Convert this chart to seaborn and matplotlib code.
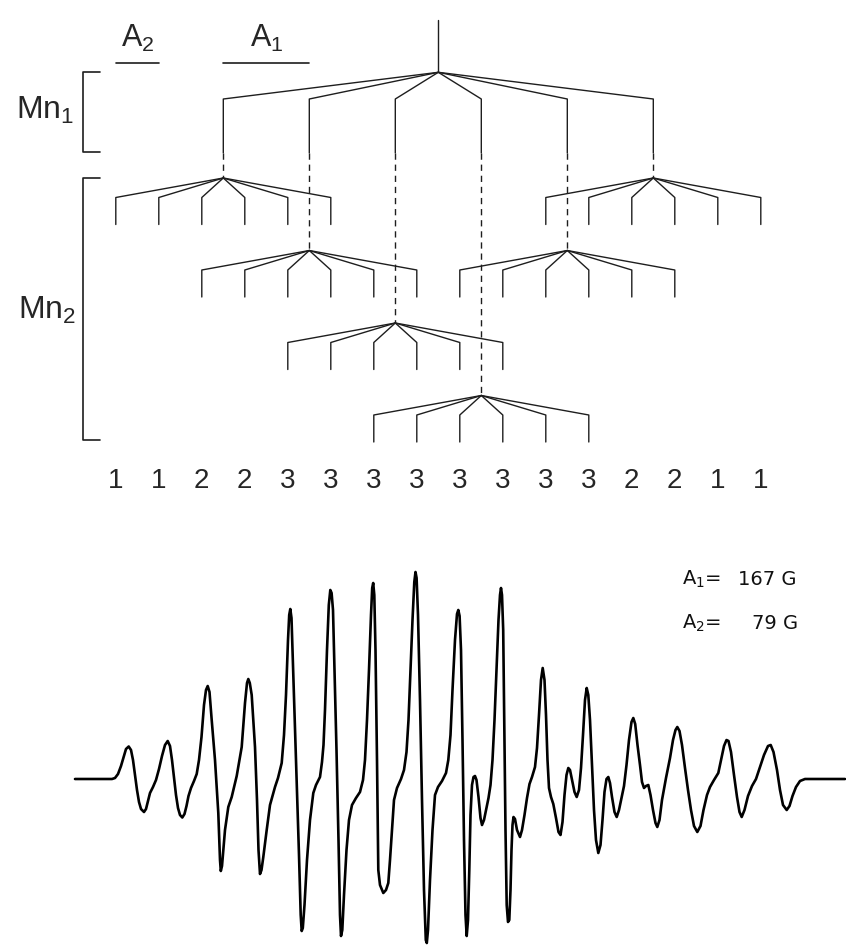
import numpy as np
import pandas as pd
import matplotlib
matplotlib.use("Agg")
import matplotlib.pyplot as plt
import seaborn as sns

sns.set_theme(style="white")
plt.rcParams['font.family'] = ['Liberation Sans', 'DejaVu Sans']

# ---------------- data ----------------
# splitting tree (diagram units)
A1 = 86.0            # Mn1 hyperfine spacing in diagram
A2 = 43.0            # Mn2 hyperfine spacing in diagram
tree_center_x = 438.3
m_values = [-2.5, -1.5, -0.5, 0.5, 1.5, 2.5]
branch_row = [0, 1, 2, 3, 1, 0]          # which Mn2 row each Mn1 line feeds
row_center_y = [178.0, 250.5, 323.0, 395.5]
line_counts = ["1", "1", "2", "2", "3", "3", "3", "3", "3", "3", "3", "3", "2", "2", "1", "1"]

# EPR spectrum trace: (field position, pen position)
spec_points = [
    (75, 779), (112, 779), (115, 778), (118, 774), (121, 766), (124, 756), (126, 749),
    (128.7, 746.5), (131, 750), (133, 760), (135, 775), (137, 790), (139, 802), (141, 809),
    (144, 812), (146, 809), (148, 801), (150, 793), (153, 787), (156, 780), (159, 769),
    (162, 756), (165, 745), (167.7, 741), (170, 746), (172, 760), (174, 778), (176, 795),
    (178, 808), (180, 815), (182.3, 817.5), (184.5, 814), (186.5, 806), (188.5, 796),
    (191, 788), (194, 781), (196.7, 774), (199, 760), (201.5, 737), (204, 705), (206, 690),
    (207.7, 686), (209.5, 692), (211.7, 720), (215, 760), (218.3, 813), (220, 860),
    (220.8, 871), (222, 866), (223.5, 848), (225, 830), (228.3, 807), (231.7, 797),
    (236.7, 776), (241.7, 747), (245, 703), (247, 683), (248.3, 679), (249.8, 683),
    (251.7, 695), (255, 747), (257, 800), (258.5, 850), (260, 874), (261.5, 870),
    (263.3, 857), (266.7, 830), (270, 805), (275, 787), (278, 778), (281.7, 763),
    (284, 735), (286, 695), (288, 640), (289.2, 615), (290.3, 609), (291.5, 618),
    (293, 665), (295, 730), (297, 790), (299, 855), (300.7, 915), (301.7, 931),
    (302.8, 928), (304.5, 905), (307, 860), (310, 820), (313.3, 793), (316, 785),
    (320, 777), (322, 762), (323.5, 745), (325, 710), (327, 650), (328.8, 605),
    (330.3, 590), (331.6, 593), (333, 610), (334.5, 670), (336.5, 750), (338.5, 840),
    (340, 915), (341, 936), (342.3, 930), (344, 895), (346.5, 850), (349, 820),
    (352, 805), (356, 798), (360, 792), (363, 780), (365, 760), (367, 720), (369, 670),
    (371, 615), (372.2, 588), (373.2, 583), (374.3, 595), (375.5, 650), (377, 760),
    (378.3, 870), (380, 885), (383.3, 893), (386, 890), (388.3, 883), (390, 860),
    (392, 830), (394, 800), (397, 788), (401, 779), (404, 770), (406.5, 752),
    (408.5, 720), (410.5, 670), (412.5, 620), (414.3, 582), (415.5, 572), (416.6, 578),
    (418, 615), (420, 700), (422, 800), (424, 890), (425.8, 940), (426.8, 943),
    (428, 930), (430, 880), (432.5, 830), (435, 795), (438, 787), (442, 781),
    (446, 773), (448.3, 760), (450.5, 735), (452.5, 690), (455, 640), (457, 614),
    (458.3, 610), (459.6, 616), (461, 650), (462.5, 740), (464, 840), (465.5, 915),
    (466.7, 936), (468, 920), (469.3, 870), (470.5, 815), (472, 785), (473.5, 777),
    (475, 776), (476.5, 780), (478.5, 797), (480.5, 818), (482, 825), (484, 820),
    (486.5, 808), (488.5, 798), (490.5, 785), (492.5, 760), (494.5, 720), (496.5, 670),
    (498.5, 620), (500, 595), (501, 588), (502, 595), (503.2, 630), (504.2, 720),
    (505.5, 830), (506.7, 905), (508, 922), (509.3, 920), (510.5, 890), (511.5, 850),
    (512.5, 825), (513.5, 817), (515, 819), (517, 830), (520, 837), (522, 830),
    (524.5, 815), (527, 798), (529.5, 784), (532, 777), (535, 767), (537, 748),
    (539, 715), (541, 680), (542.7, 668), (544.5, 680), (546, 715), (547.5, 760),
    (549, 788), (551, 797), (553.3, 804), (556, 818), (558.5, 832), (560.5, 835),
    (562.5, 822), (564.5, 795), (566.5, 775), (568.3, 768), (570, 770), (572, 780),
    (574.5, 792), (576.7, 797), (579, 790), (581, 768), (583, 735), (585, 700),
    (586.7, 688), (588.3, 695), (590, 720), (592, 765), (594, 810), (596, 840),
    (598.3, 853), (600.5, 845), (602.5, 820), (604.5, 792), (606.5, 779), (608.3, 777),
    (610, 783), (612, 797), (614.5, 812), (616.7, 817), (619, 810), (621.5, 798),
    (624, 786), (626.5, 765), (629, 740), (631.5, 722), (633.3, 718), (635.2, 724),
    (637.5, 745), (640, 765), (642, 782), (644, 788), (646, 786), (648.3, 785),
    (650.5, 795), (653, 810), (655.5, 823), (657.3, 827), (659.5, 820), (662, 800),
    (666, 778), (670, 758), (673, 740), (675.5, 730), (677.3, 727), (679.5, 731),
    (682, 745), (685, 768), (688, 790), (691, 810), (694, 826), (697.3, 832),
    (700.5, 826), (703.5, 810), (707, 795), (710, 787), (714, 780), (718.3, 773),
    (721, 760), (724, 746), (726.5, 740), (728.5, 741), (731, 752), (734, 775),
    (737, 797), (739.5, 812), (741.7, 817), (744.5, 810), (748, 796), (752, 786),
    (756, 779), (760, 767), (764, 755), (768, 746), (770.7, 745), (773.5, 752),
    (777, 770), (780, 790), (783, 805), (786.7, 810), (789.5, 806), (792.5, 796),
    (796, 787), (800, 781), (805, 779), (845, 779),
]
spec_x = [p[0] for p in spec_points]
baseline_px = 779
spec_signal = [baseline_px - p[1] for p in spec_points]

# ---------------- figure ----------------
W, H = 846, 947
fig = plt.figure(figsize=(W / 100, H / 100), dpi=100)
ax = fig.add_axes([0, 0, 1, 1])
ax.set_xlim(0, W)
ax.set_ylim(H, 0)
ax.axis('off')

lc = '#1e1e1e'
lw = 1.0

# Mn1 splitting
stem_top, stem_bot, knee1, mn1_bot = 19.5, 72.3, 99.0, 153.0
ax.plot([tree_center_x, tree_center_x], [stem_top, stem_bot], color=lc, lw=lw)
for m, row in zip(m_values, branch_row):
    xb = tree_center_x + m * A1
    ax.plot([tree_center_x, xb, xb], [stem_bot, knee1, mn1_bot], color=lc, lw=lw)
    yc = row_center_y[row]
    ax.plot([xb, xb], [mn1_bot, yc], color=lc, lw=lw, linestyle=(0, (4.5, 3.5)))
    # Mn2 splitting
    for m2 in m_values:
        x2 = xb + m2 * A2
        ax.plot([xb, x2, x2], [yc, yc + 19.5, yc + 46.5], color=lc, lw=lw)

# brackets
ax.plot([100, 83, 83, 100], [71.7, 71.7, 152.3, 152.3], color=lc, lw=1.2)
ax.plot([100, 83, 83, 100], [178.3, 178.3, 440, 440], color=lc, lw=1.2)

# A2 / A1 scale bars
first_x = tree_center_x - 2.5 * A1 - 2.5 * A2
ax.plot([first_x, first_x + A2], [62.7, 62.7], color=lc, lw=1.2)
ax.plot([tree_center_x - 2.5 * A1, tree_center_x - 1.5 * A1], [62.7, 62.7], color=lc, lw=1.2)

ax.text(first_x + A2 / 2, 38, r'$\mathregular{A_2}$', ha='center', va='center', fontsize=22)
ax.text(tree_center_x - 2.0 * A1, 38, r'$\mathregular{A_1}$', ha='center', va='center', fontsize=22)
ax.text(45, 110, r'$\mathregular{Mn_1}$', ha='center', va='center', fontsize=23)
ax.text(47, 310, r'$\mathregular{Mn_2}$', ha='center', va='center', fontsize=23)

# line-count labels
for k, lab in enumerate(line_counts):
    ax.text(first_x + k * A2, 481, lab, ha='center', va='center', fontsize=20)

# annotation
ann_font = dict(fontsize=14, family='DejaVu Sans', color='#111111')
ax.text(682, 579, r'A$\mathregular{_1}$=', ha='left', va='center', **ann_font)
ax.text(796, 579, '167 G', ha='right', va='center', **ann_font)
ax.text(682, 623, r'A$\mathregular{_2}$=', ha='left', va='center', **ann_font)
ax.text(798, 623, '79 G', ha='right', va='center', **ann_font)

# spectrum
ax_spec = fig.add_axes([0, 0, 1, 1])
ax_spec.set_xlim(0, W)
ax_spec.set_ylim(baseline_px - H, baseline_px)
ax_spec.axis('off')
df = pd.DataFrame({'field': spec_x, 'signal': spec_signal})
sns.lineplot(data=df, x='field', y='signal', sort=False, estimator=None,
             color='black', lw=1.9, ax=ax_spec)
for line in ax_spec.lines:
    line.set_solid_joinstyle('round')
    line.set_solid_capstyle('round')

fig.savefig('out.png', dpi=100)
